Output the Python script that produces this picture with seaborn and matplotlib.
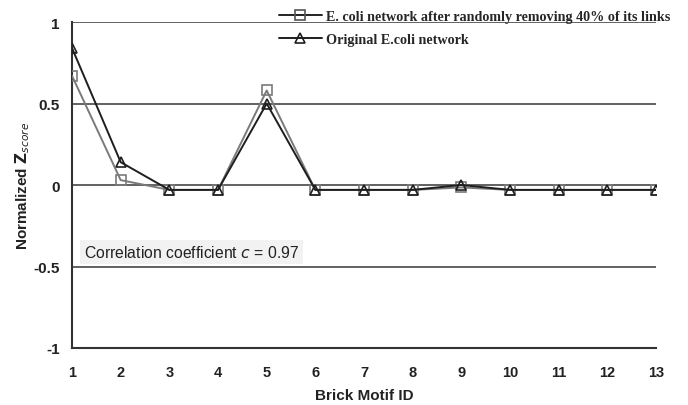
import matplotlib
matplotlib.use("Agg")
import matplotlib.pyplot as plt
import seaborn as sns
import pandas as pd

motif_ids = list(range(1, 14))
removed_40 = [0.67, 0.03, -0.03, -0.03, 0.58, -0.03, -0.03, -0.03, -0.015, -0.03, -0.03, -0.03, -0.03]
original = [0.84, 0.14, -0.03, -0.03, 0.50, -0.03, -0.03, -0.03, 0.0, -0.03, -0.03, -0.03, -0.03]
series_names = ["E. coli network after randomly removing 40% of its links",
                "Original E.coli network"]
y_ticks = [-1, -0.5, 0, 0.5, 1]
y_tick_labels = ["-1", "-0.5", "0", "0.5", "1"]

sns.set_style("white")
plt.rcParams['font.family'] = ['Liberation Sans', 'DejaVu Sans']

fig = plt.figure(figsize=(6.88, 4.06), dpi=100)
ax = fig.add_axes([0.1047, 0.1404, 0.8488, 0.8029])

for yv in [-0.5, 0, 0.5, 1]:
    ax.axhline(yv, color="#555555", lw=1.3, zorder=1)

sns.lineplot(x=motif_ids, y=removed_40, ax=ax, color="#7a7a7a", lw=1.4,
             marker="s", markersize=7, markerfacecolor="none",
             markeredgecolor="#7a7a7a", markeredgewidth=1.2,
             label=series_names[0], zorder=3)
sns.lineplot(x=motif_ids, y=original, ax=ax, color="#1e1e1e", lw=1.4,
             marker="^", markersize=7, markerfacecolor="none",
             markeredgecolor="#1e1e1e", markeredgewidth=1.2,
             label=series_names[1], zorder=4)

ax.set_xlim(1, 13)
ax.set_ylim(-1, 1)
ax.set_xticks(motif_ids)
ax.set_xticklabels([str(i) for i in motif_ids], fontsize=10.5, fontweight="bold", color="#222222")
ax.set_yticks(y_ticks)
ax.set_yticklabels(y_tick_labels, fontsize=11, fontweight="bold", color="#222222")
ax.tick_params(axis="x", direction="in", length=4, width=1.2, color="#333333", pad=12)
ax.tick_params(axis="y", length=0, pad=9)

for s in ["top", "right"]:
    ax.spines[s].set_visible(False)
for s in ["left", "bottom"]:
    ax.spines[s].set_color("#333333")
    ax.spines[s].set_linewidth(1.5)

ax.set_xlabel("Brick Motif ID", fontsize=11, fontweight="bold", color="#222222", labelpad=7)
ax.set_ylabel(r"Normalized $\mathbf{Z}_{\it{score}}$", fontsize=11, fontweight="bold",
              color="#222222", labelpad=1)

ax.text(1.25, -0.41, r"Correlation coefficient $\it{c}$ = 0.97", fontsize=11.3,
        color="#222222", va="center", ha="left",
        bbox=dict(boxstyle="square,pad=0.25", facecolor="#f2f2f2", edgecolor="none"))

leg = ax.legend(loc="upper left", bbox_to_anchor=(0.345, 1.055), frameon=False,
                prop={"family": "Liberation Serif", "weight": "bold", "size": 10.2},
                handlelength=3.0, handletextpad=0.3, labelspacing=0.75,
                borderaxespad=0)
h0 = leg.legend_handles[0]
h0.set_color("#222222")
h0.set_markeredgecolor("#555555")

fig.savefig("out.png", dpi=100)
